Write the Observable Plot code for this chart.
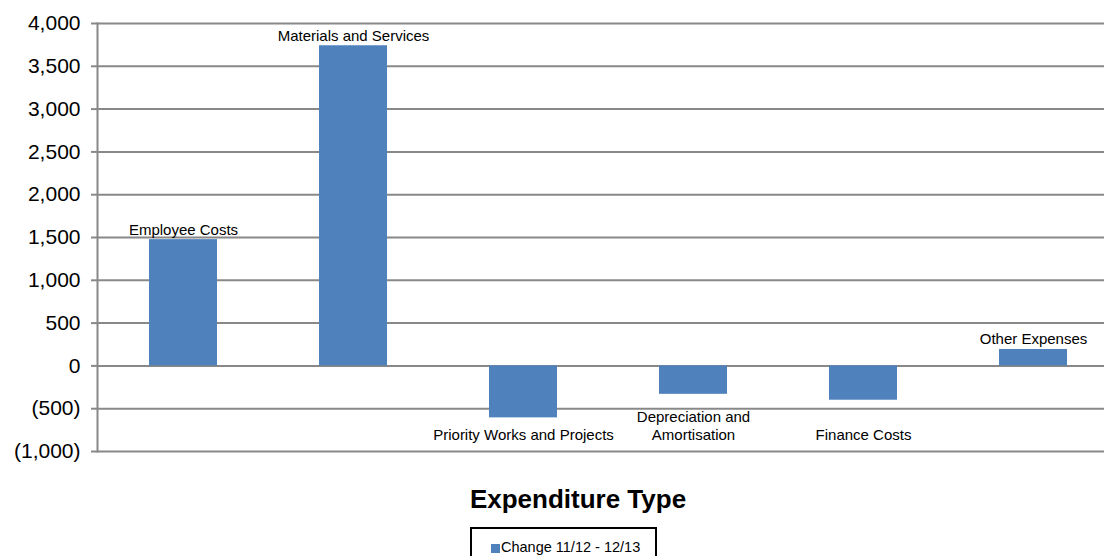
<!DOCTYPE html>
<html>
<head>
<meta charset="utf-8">
<script src="https://cdn.jsdelivr.net/npm/d3@7"></script>
<script src="https://cdn.jsdelivr.net/npm/@observablehq/plot@0.6"></script>
<style>
  body { margin: 0; background: #fff; font-family: "Liberation Sans", Arial, sans-serif; }
  #wrap { width: 1104px; height: 556px; position: relative; overflow: hidden; }
  #chart { height: 470px; }
  #title { position: absolute; left: 0; width: 1104px; top: 484px; text-align: center; font-weight: bold; font-size: 26px; line-height: 30px; padding-left: 52px; box-sizing: border-box; color: #000; }
  #legend { position: absolute; left: 470px; top: 527px; width: 187px; height: 40px; border: 2px solid #000; box-sizing: border-box; font-size: 14.5px; line-height: 16px; color: #000; background: #fff; }
  #legend .sw { display: inline-block; width: 9px; height: 9px; background: #4F81BD; margin-right: 1px; vertical-align: -1px; }
  #legend .item { position: absolute; left: 19px; top: 10px; white-space: nowrap; }
</style>
</head>
<body>
<div id="wrap">
  <div id="chart"></div>
  <div id="title">Expenditure Type</div>
  <div id="legend"><span class="item"><span class="sw"></span><span id="seriesLabel"></span></span></div>
</div>
<script>
const categories = ["Employee Costs", "Materials and Services", "Priority Works and Projects", "Depreciation and Amortisation", "Finance Costs", "Other Expenses"];
const labels = ["Employee Costs", "Materials and Services", "Priority Works and Projects", "Depreciation and\nAmortisation", "Finance Costs", "Other Expenses"];
const values = [1475, 3740, -607, -332, -401, 192];
const yTicks = [-1000, -500, 0, 500, 1000, 1500, 2000, 2500, 3000, 3500, 4000];
const seriesName = "Change 11/12 - 12/13";

document.getElementById("seriesLabel").textContent = seriesName;

const data = categories.map((c, i) => ({category: c, label: labels[i], value: values[i]}));
const fmt = d3.format(",");
const tickFmt = d => d < 0 ? `(${fmt(-d)})` : fmt(d);
const NEG_LABEL_Y = -870;

const chart = Plot.plot({
  width: 1104,
  height: 470,
  marginLeft: 97,
  marginRight: 0,
  marginTop: 23,
  marginBottom: 19,
  style: {fontFamily: "Liberation Sans, Arial, sans-serif", background: "#fff"},
  x: {domain: categories, range: [97, 1118], padding: 0, axis: null},
  y: {domain: [-1000, 4000], ticks: yTicks, tickFormat: tickFmt},
  marks: [
    Plot.ruleY(yTicks, {stroke: "#888", strokeWidth: 2}),
    Plot.axisY({ticks: yTicks, tickFormat: tickFmt, tickSize: 6, tickPadding: 11, stroke: "#888", strokeWidth: 2, fontSize: 21, fill: "#000", label: null}),
    Plot.frame({anchor: "left", stroke: "#888", strokeWidth: 2}),
    Plot.barY(data, {x: "category", y: "value", fill: "#4F81BD", insetLeft: 51, insetRight: 51}),
    Plot.text(data.filter(d => d.value >= 0), {x: "category", y: "value", text: "label", dy: -5, lineAnchor: "bottom", fontSize: 15, fill: "#000"}),
    Plot.text(data.filter(d => d.value < 0), {x: "category", y: () => NEG_LABEL_Y, text: "label", lineAnchor: "bottom", lineHeight: 1.2, fontSize: 15, fill: "#000"})
  ]
});
document.getElementById("chart").appendChild(chart);
</script>
</body>
</html>
